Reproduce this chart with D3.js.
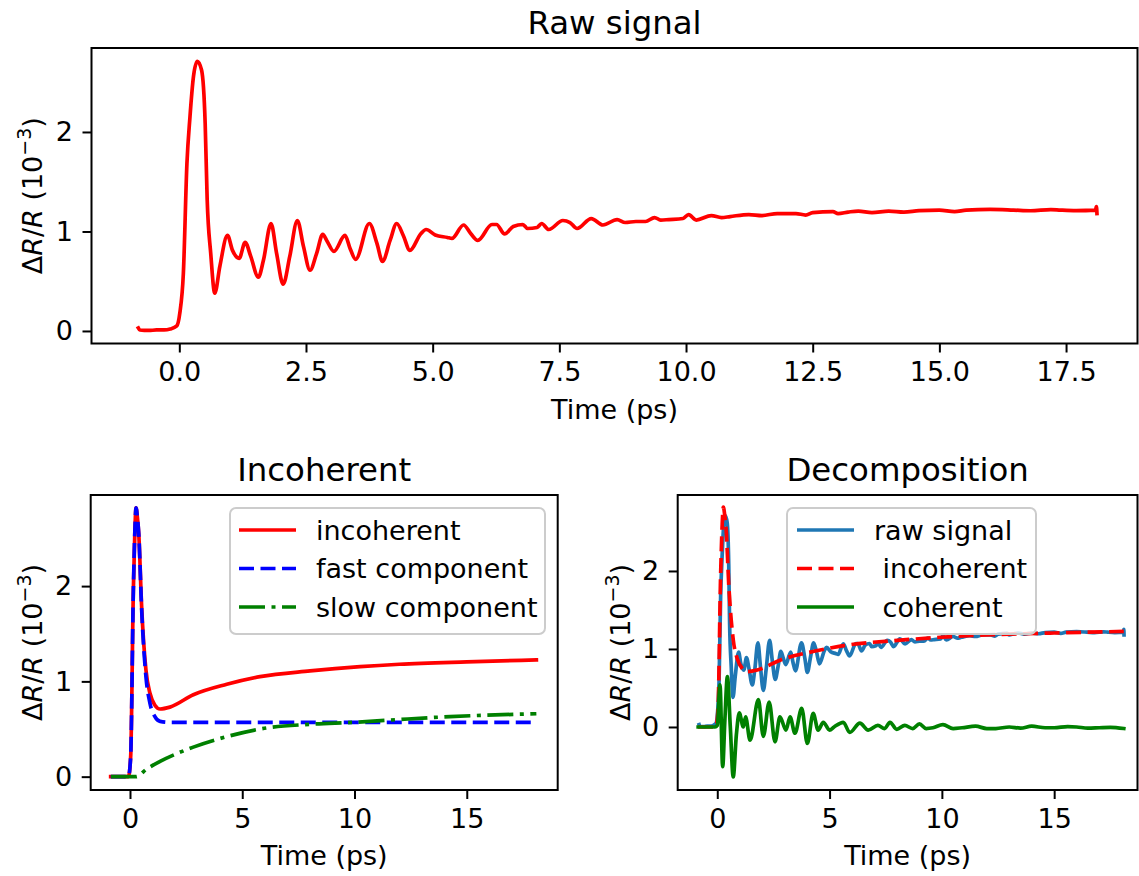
<!DOCTYPE html>
<html><head><meta charset="utf-8">
<script src="https://cdn.jsdelivr.net/npm/d3@7"></script>
<style>
body{margin:0;background:#fff}
text{font-family:"DejaVu Sans",sans-serif;fill:#000}
</style>
</head><body>
<svg id="c" width="1139" height="876"></svg>
<script>
// ---------- data ----------
const rawT=[-0.81,-0.78,-0.6,-0.45,-0.3,-0.18,-0.05,0.01,0.08,0.15,0.21,0.28,0.355,0.44,0.51,0.55,0.62,0.70,0.80,0.95,1.05,1.18,1.30,1.41,1.56,1.66,1.81,1.92,2.05,2.18,2.33,2.45,2.58,2.71,2.83,2.92,3.05,3.27,3.37,3.48,3.75,3.90,4.01,4.16,4.29,4.42,4.55,4.77,4.87,5.05,5.29,5.38,5.61,5.75,5.89,6.17,6.26,6.42,6.59,6.78,6.87,7.06,7.15,7.29,7.57,7.71,7.85,8.13,8.36,8.64,8.8,9.01,9.2,9.38,9.5,9.66,9.94,10.05,10.2,10.5,10.7,10.87,11.24,11.5,11.8,12.17,12.36,12.5,12.9,13.0,13.2,13.4,13.67,14.0,14.3,14.6,15.0,15.3,15.53,16.0,16.46,16.8,17.2,17.39,17.7,18.08,18.1,18.11];
const rawV=[0.03,0.01,0.005,0.01,0.01,0.02,0.05,0.18,0.58,1.68,2.15,2.56,2.71,2.62,2.09,1.32,0.78,0.38,0.65,0.96,0.81,0.73,0.89,0.75,0.54,0.71,1.08,0.78,0.47,0.75,1.11,0.85,0.61,0.78,0.97,0.90,0.80,0.96,0.83,0.72,1.08,0.88,0.70,0.91,1.08,0.96,0.81,0.98,1.02,0.965,0.94,0.93,1.065,0.98,0.91,1.07,1.07,0.975,1.05,1.07,1.03,1.04,1.08,1.02,1.11,1.09,1.03,1.13,1.065,1.12,1.09,1.10,1.10,1.14,1.115,1.12,1.13,1.17,1.115,1.16,1.14,1.15,1.17,1.16,1.18,1.18,1.165,1.19,1.2,1.18,1.195,1.205,1.19,1.205,1.195,1.21,1.215,1.2,1.215,1.222,1.215,1.208,1.22,1.215,1.21,1.215,1.25,1.18];

const incT=[-0.86,-0.07,0.03,0.15,0.22,0.27,0.33,0.39,0.52,0.71,0.89,1.11,1.34,1.78,2.82,4.31,5.79,8.02,10.25,12.0,15.0,18.1];
const incV=[0,0,0.21,1.96,2.6,2.82,2.72,2.55,1.78,1.12,0.875,0.75,0.71,0.73,0.86,0.97,1.05,1.11,1.155,1.18,1.205,1.225];

const fastT=[-0.86,-0.07,0.03,0.15,0.22,0.27,0.33,0.39,0.52,0.71,0.89,1.11,1.34,1.8,18.1];
const fastV=[0,0,0.21,1.96,2.6,2.82,2.72,2.55,1.75,1.05,0.77,0.63,0.58,0.57,0.57];

const slowT=[-0.85,0.27,0.74,1.34,2.82,4.31,5.79,8.02,9.95,12.0,14.25,18.1];
const slowV=[0,0,0.08,0.16,0.31,0.42,0.50,0.55,0.57,0.60,0.63,0.66];

const cohT=[-0.85,-0.1,0.0,0.12,0.24,0.34,0.45,0.58,0.71,0.85,0.98,1.16,1.26,1.46,1.83,2.05,2.31,2.57,2.79,3.06,3.24,3.46,3.76,4.01,4.27,4.49,4.72,5.0,5.2,5.61,5.9,6.35,6.72,7.15,7.45,7.69,7.99,8.35,8.7,9.0,9.3,9.6,10.05,10.5,10.9,11.5,12.0,12.4,13.0,13.5,14.0,14.6,15.0,15.6,16.0,16.5,17.0,17.5,18.1];
const cohV=[0,0,0.02,0.54,-0.51,0.1,0.645,0.0,-0.64,-0.1,0.18,0.0,0.13,-0.17,0.35,-0.12,0.32,-0.19,0.13,-0.04,0.13,-0.08,0.24,-0.21,0.175,-0.04,0.06,-0.04,0,0.06,-0.07,0.05,-0.04,0.02,-0.02,0.06,-0.03,0.02,-0.02,0.04,-0.02,-0.01,0.03,-0.02,-0.01,0.01,-0.02,-0.02,0.0,-0.015,0.01,-0.01,-0.01,0.005,0.0,-0.015,-0.01,-0.005,-0.02];

const topXTicks=[0,2.5,5,7.5,10,12.5,15,17.5];
const botXTicks=[0,5,10,15];
const yTicks=[0,1,2];

const titles=["Raw signal","Incoherent","Decomposition"];
const xLabel="Time (ps)";
const legLeft=["incoherent","fast component","slow component"];
const legRight=["raw signal"," incoherent"," coherent"];

// ---------- drawing ----------
const svg=d3.select("#c");
const FS=27, LW=3.7;
const DASH="15,6.5", DASHDOT="26,6.5,4,6.5";
const C={red:"#ff0000",blue:"#0000ff",green:"#008000",raw:"#1f77b4"};
const zip=(T,V)=>T.map((t,i)=>[t,V[i]]);

let clipId=0;
function panel(cfg){
  const x=d3.scaleLinear().domain(cfg.xd).range([cfg.l,cfg.r]);
  const y=d3.scaleLinear().domain(cfg.yd).range([cfg.b,cfg.t]);
  const id="clip"+(clipId++);
  svg.append("clipPath").attr("id",id).append("rect")
    .attr("x",cfg.l).attr("y",cfg.t).attr("width",cfg.r-cfg.l).attr("height",cfg.b-cfg.t);
  const g=svg.append("g").attr("clip-path",`url(#${id})`);
  const line=d3.line().x(d=>x(d[0])).y(d=>y(d[1])).curve(d3.curveMonotoneX);
  cfg.series.forEach(s=>{
    g.append("path").datum(s.data).attr("d",line)
      .attr("fill","none").attr("stroke",s.color).attr("stroke-width",LW)
      .attr("stroke-linejoin","round")
      .attr("stroke-linecap",s.dash?"butt":"square")
      .attr("stroke-dasharray",s.dash||null);
  });
  const ax=svg.append("g").attr("transform",`translate(0,${cfg.b})`)
    .call(d3.axisBottom(x).tickValues(cfg.xt).tickSize(9).tickPadding(9.5)
      .tickFormat(cfg.xfmt));
  const ay=svg.append("g").attr("transform",`translate(${cfg.l},0)`)
    .call(d3.axisLeft(y).tickValues(yTicks).tickSize(9).tickPadding(9.5).tickFormat(d3.format("d")));
  [ax,ay].forEach(a=>{
    a.select(".domain").remove();
    a.selectAll("line").attr("stroke","#000").attr("stroke-width",2);
    a.selectAll("text").attr("font-size",FS).attr("font-family","DejaVu Sans").attr("fill","#000");
  });
  svg.append("rect").attr("x",cfg.l).attr("y",cfg.t).attr("width",cfg.r-cfg.l).attr("height",cfg.b-cfg.t)
    .attr("fill","none").attr("stroke","#000").attr("stroke-width",2);
  svg.append("text").attr("x",(cfg.l+cfg.r)/2).attr("y",cfg.t-14).attr("text-anchor","middle")
    .attr("font-size",32.4).text(cfg.title);
  svg.append("text").attr("x",(cfg.l+cfg.r)/2).attr("y",cfg.b+75).attr("text-anchor","middle")
    .attr("font-size",FS).text(xLabel);
  const yl=svg.append("text").attr("transform",`translate(${cfg.ylx},${(cfg.t+cfg.b)/2}) rotate(-90)`)
    .attr("text-anchor","middle").attr("font-size",FS).style("white-space","pre");
  yl.append("tspan").text("Δ");
  yl.append("tspan").attr("font-style","italic").text("R");
  yl.append("tspan").text("/");
  yl.append("tspan").attr("font-style","italic").text("R");
  yl.append("tspan").text(" (10");
  yl.append("tspan").attr("dy",-11).attr("font-size",19).text("−3");
  yl.append("tspan").attr("dy",11).text(")");
  if(cfg.legend){
    const L=cfg.legend;
    svg.append("rect").attr("x",L.x).attr("y",L.y).attr("width",L.w).attr("height",L.h)
      .attr("rx",6).attr("fill","#fff").attr("fill-opacity",0.8)
      .attr("stroke","#cccccc").attr("stroke-width",2);
    L.items.forEach((it,i)=>{
      const cy=L.y+22+i*38.5;
      svg.append("line").attr("x1",L.x+L.lx).attr("x2",L.x+L.lx+57).attr("y1",cy).attr("y2",cy)
        .attr("stroke",it.color).attr("stroke-width",LW).attr("stroke-dasharray",it.dash||null);
      svg.append("text").attr("x",L.x+L.tx).attr("y",cy+9.5).attr("font-size",FS)
        .style("white-space","pre").text(it.label);
    });
  }
}

const raw=zip(rawT,rawV), inc=zip(incT,incV), fast=zip(fastT,fastV), slow=zip(slowT,slowV), coh=zip(cohT,cohV);

panel({l:91.5,r:1137.5,t:48,b:343.5,xd:[-1.733,18.91],yd:[-0.126,2.844],
  xt:topXTicks,xfmt:d3.format(".1f"),title:titles[0],ylx:42,
  series:[{data:raw,color:C.red}]});

panel({l:90.7,r:557.7,t:495,b:790,xd:[-1.75,19.05],yd:[-0.14,2.956],
  xt:botXTicks,xfmt:d3.format("d"),title:titles[1],ylx:42,
  series:[{data:inc,color:C.red},{data:fast,color:C.blue,dash:DASH},{data:slow,color:C.green,dash:DASHDOT}],
  legend:{x:230,y:508,w:315,h:126,lx:9,tx:86,items:[
    {label:legLeft[0],color:C.red},{label:legLeft[1],color:C.blue,dash:DASH},{label:legLeft[2],color:C.green,dash:DASHDOT}]}});

panel({l:677.7,r:1137.5,t:495,b:790,xd:[-1.762,18.71],yd:[-0.808,2.974],
  xt:botXTicks,xfmt:d3.format("d"),title:titles[2],ylx:630,
  series:[{data:raw,color:C.raw},{data:inc,color:C.red,dash:DASH},{data:coh,color:C.green}],
  legend:{x:787,y:508,w:249,h:126,lx:10,tx:87,items:[
    {label:legRight[0],color:C.raw},{label:legRight[1],color:C.red,dash:DASH},{label:legRight[2],color:C.green}]}});
</script>
</body></html>
